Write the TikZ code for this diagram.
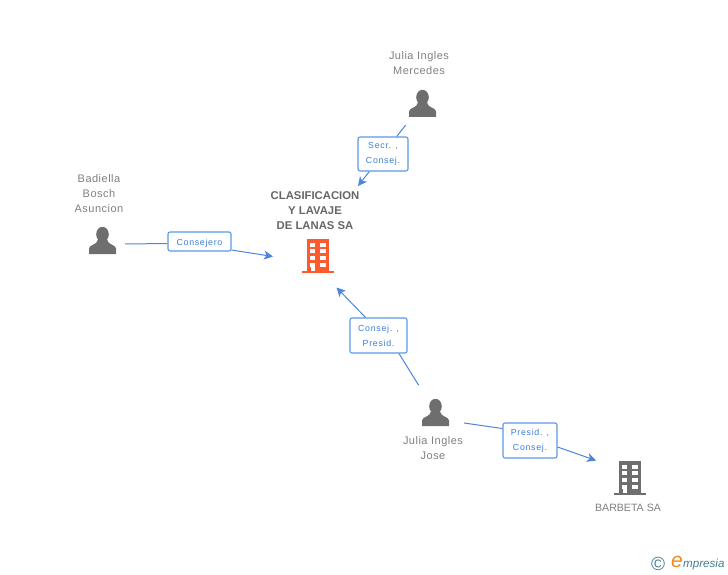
\documentclass[tikz,border=0pt]{standalone}
\usepackage{fontspec}
\usepackage{xcolor}
\usetikzlibrary{arrows.meta,positioning,calc}
\setmainfont{Liberation Sans}
\newfontfamily\spacedfont[LetterSpace=4.5]{Liberation Sans}
\newfontfamily\boxfont[LetterSpace=8]{Liberation Sans}
\definecolor{linkblue}{HTML}{4A86DC}
\definecolor{boxblue}{HTML}{5B98E6}
\definecolor{textblue}{HTML}{3A7FDB}
\definecolor{namegray}{HTML}{808080}
\definecolor{titlegray}{HTML}{666666}
\definecolor{icongray}{HTML}{6E6E6E}
\definecolor{iconred}{HTML}{FF5A2D}
\definecolor{markteal}{HTML}{3F7F94}
\definecolor{markorange}{HTML}{F08A1D}

\begin{document}
\begin{tikzpicture}[
			x=1pt, y=-1pt,
			personicon/.style={rectangle, inner sep=0pt, minimum width=27pt, minimum height=27pt,
				path picture={
					\fill[icongray] (0,-6.2) ellipse [x radius=6.3pt, y radius=7.5pt];
					\fill[icongray] (-13.5,13.5) -- (-13.5,8) .. controls (-13.5,4) and (-5,4.5) .. (-4.5,-1) -- (4.5,-1) .. controls (5,4.5) and (13.5,4) .. (13.5,8) -- (13.5,13.5) -- cycle;
				}},
			buildingicon/.style={rectangle, inner sep=0pt, minimum width=32pt, minimum height=34pt,
				path picture={
					\fill[#1] (-11,-17) rectangle (11,15);
					\fill[#1] (-16,15) rectangle (16,17);
					\foreach \wy in {-13,-6.7,0,6.7} {
						\fill[white] (-7.8,\wy) rectangle ++(5.2,4);
						\fill[white] (2.4,\wy) rectangle ++(5.2,4);
					}
					\fill[white] (-7.2,6.7) rectangle (-3,14.5);
				}},
			rolebox/.style={rectangle, draw=boxblue, fill=white, line width=1.1pt, rounded corners=2pt, inner sep=0pt, align=center, text=textblue, font=\boxfont\fontsize{8.8}{15}\selectfont, execute at begin node={\rule{0pt}{10.4pt}}},
			namelabel/.style={align=center, inner sep=0pt, text=namegray, font=\spacedfont\fontsize{11}{15}\selectfont},
			titlelabel/.style={align=center, inner sep=0pt, text=titlegray, font=\fontsize{11.3}{15}\selectfont\bfseries},
			link/.style={draw=linkblue, line width=1pt},
			linkarrow/.style={link, -{Stealth[length=9pt,width=9pt,inset=2.5pt]}}
			]
			\useasboundingbox (0,0) rectangle (728,575);
			
			\node[personicon] (P1) at (102.5,240.5) {};
			\node[personicon] (P2) at (422.5,103.5) {};
			\node[personicon] (P3) at (435.5,412.5) {};
			\node[buildingicon=iconred] (C1) at (318,256) {};
			\node[buildingicon=icongray] (B1) at (630,478) {};
			
			\node[namelabel] (N1) at (99,193.5) {Badiella\\Bosch\\Asuncion};
			\node[namelabel] (N2) at (419,63.5) {Julia Ingles\\Mercedes};
			\node[namelabel] (N3) at (433,448) {Julia Ingles\\Jose};
			\node[namelabel, font=\fontsize{10.6}{15}\selectfont] (N4) at (628,507.5) {BARBETA SA};
			\node[titlelabel] (T1) at (315,210.2) {CLASIFICACION\\Y LAVAJE\\DE LANAS SA};
			
			% free ends of the links
			\coordinate (S1) at (125,244);
			\coordinate (S4) at (464,423);
			\coordinate (E1) at (273,256.5);
			\coordinate (E2) at (358,186);
			\coordinate (E3) at (336.5,287.5);
			\coordinate (E4) at (596,460.5);
			
			\node[rolebox, minimum width=63pt, minimum height=19pt] (L1) at (199.5,241.5) {Consejero};
			\node[rolebox, minimum width=50pt, minimum height=34pt] (L2) at (383,154) {Secr. ,\\Consej.};
			\node[rolebox, minimum width=57pt, minimum height=35pt] (L3) at (378.5,335.5) {Consej. ,\\Presid.};
			\node[rolebox, minimum width=54pt, minimum height=35pt] (L4) at (530,440.5) {Presid. ,\\Consej.};
			
			\draw[link] (S1) -- ($(L1.west)+(0,2)$);
			\draw[link, shorten <=10pt] (P2) -- (L2);
			\draw[link, shorten <=16pt] (P3) -- ($(L3.south)+(20.5,0)$);
			\draw[link] (S4) -- ($(L4.west)+(0,-12)$);
			
			\draw[linkarrow] ($(L1.east)+(0,8.5)$) -- (E1);
			\draw[linkarrow] (L2) -- (E2);
			\draw[linkarrow] ($(L3.north)+(-13,0)$) -- (E3);
			\draw[linkarrow] ($(L4.east)+(0,6.5)$) -- (E4);
			
			\node[inner sep=0pt, text=markteal, font=\fontsize{19}{19}\selectfont] (M1) at (658,563.5) {©};
			\node[inner sep=0pt, text=markorange, font=\fontsize{21}{21}\selectfont\itshape] (M2) at (677,562) {e};
			\node[inner sep=0pt, text=markteal, anchor=west, font=\fontsize{11.6}{12}\selectfont\itshape] (M3) at (683,564.5) {mpresia};
		\end{tikzpicture}
\end{document}
